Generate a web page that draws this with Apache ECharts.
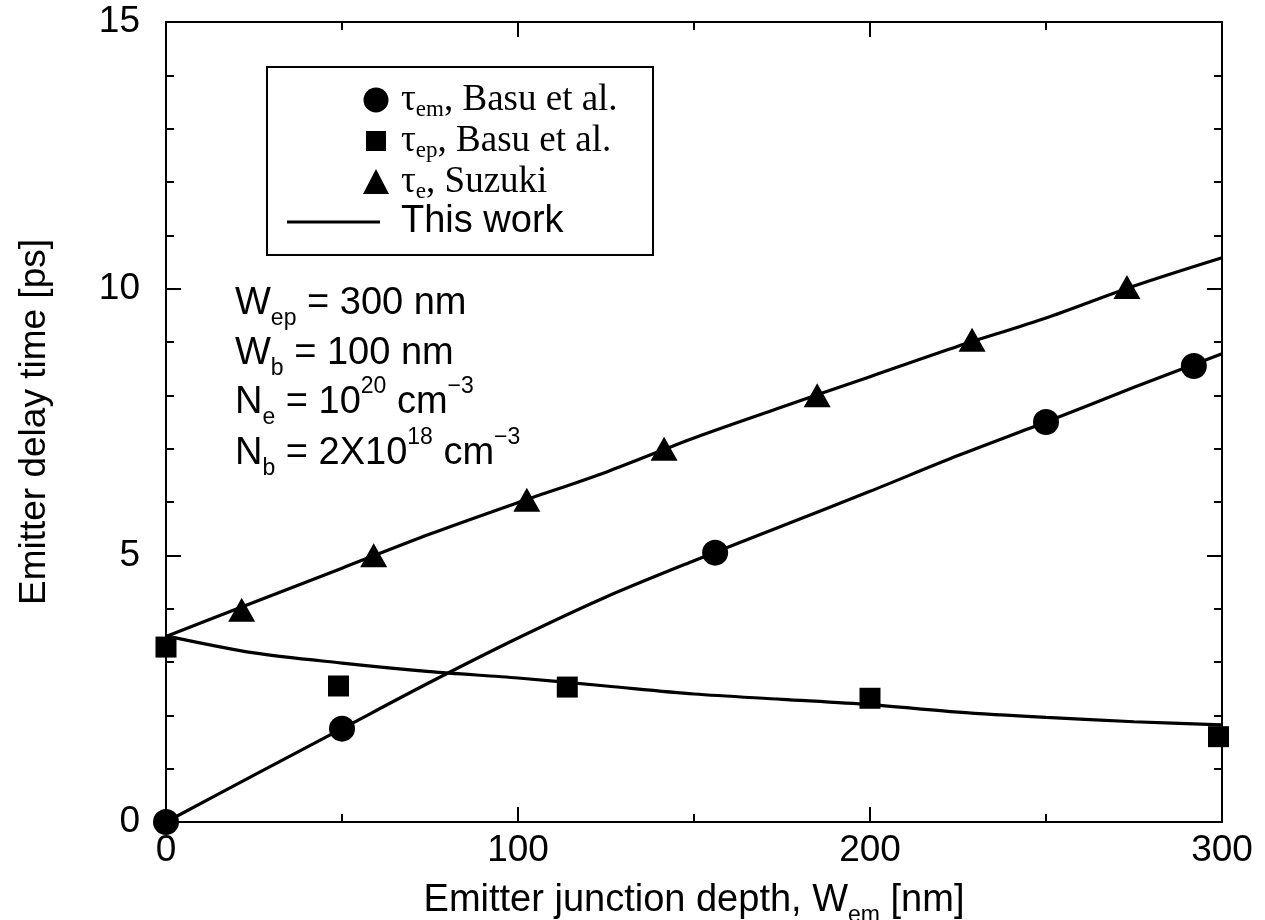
<!DOCTYPE html>
<html>
<head>
<meta charset="utf-8">
<script src="https://cdn.jsdelivr.net/npm/echarts@6/dist/echarts.min.js"></script>
<style>
  html, body { margin: 0; padding: 0; background: #fff; }
  #chart { width: 1265px; height: 920px; }
</style>
</head>
<body>
<div id="chart"></div>
<script>
// Emitter delay time vs. emitter junction depth (x in nm, y in ps)

// Measured data points
const tauEmX = [0, 50, 156, 250, 292];
const tauEmY = [0, 1.75, 5.05, 7.5, 8.55];
const tauEpX = [0, 49, 114, 200, 299];
const tauEpY = [3.28, 2.55, 2.53, 2.32, 1.6];
const tauEX = [21.5, 59, 102.5, 141.5, 185, 229, 273];
const tauEY = [3.98, 5.0, 6.04, 7.0, 8.0, 9.04, 10.03];

// Model curves ("This work")
const modelX  = [0, 25, 50, 75, 100, 125, 150, 175, 200, 225, 250, 275, 300];
const modelEm = [0, 0.88, 1.75, 2.62, 3.45, 4.22, 4.9, 5.55, 6.2, 6.87, 7.5, 8.15, 8.78];
const modelEp = [3.49, 3.17, 2.98, 2.82, 2.70, 2.55, 2.40, 2.30, 2.20, 2.06, 1.96, 1.88, 1.82];
const modelE  = [3.48, 4.12, 4.76, 5.40, 5.99, 6.56, 7.20, 7.78, 8.35, 8.92, 9.45, 10.05, 10.58];

// Axis ranges and tick steps
const xRange = [0, 300], xStep = 100, xMinorSplit = 2;
const yRange = [0, 15],  yStep = 5,   yMinorSplit = 5;

const SANS = '"Liberation Sans", Arial, Helvetica, sans-serif';
const SERIF = '"Liberation Serif", "Times New Roman", serif';

const zip = (xs, ys) => xs.map((x, i) => [x, ys[i]]);

const axisLine = { show: true, onZero: false, lineStyle: { color: '#000', width: 2 } };
const majorTick = { show: true, inside: true, length: 15, lineStyle: { color: '#000', width: 2 } };
const minorTickX = { show: true, splitNumber: xMinorSplit, length: 8, lineStyle: { color: '#000', width: 2 } };
const minorTickY = { show: true, splitNumber: yMinorSplit, length: 8, lineStyle: { color: '#000', width: 2 } };
const tickLabel = { color: '#000', fontFamily: SANS, fontSize: 37 };

// Rich text styles for sub/superscripts
const richSans = {
  n:   { fontFamily: SANS, fontSize: 38, lineHeight: 46, color: '#000' },
  sub: { fontFamily: SANS, fontSize: 23, lineHeight: 23, padding: [30, 0, 0, 0], color: '#000' },
  sup: { fontFamily: SANS, fontSize: 23, lineHeight: 23, padding: [0, 0, 32, 0], color: '#000' }
};
const richSerif = {
  t:   { fontFamily: SERIF, fontSize: 37, lineHeight: 44, color: '#000' },
  s:   { fontFamily: SERIF, fontSize: 23, lineHeight: 23, padding: [19, 0, 0, 0], color: '#000' }
};

const legendX = 267, legendY = 67, legendW = 386, legendH = 188;
const legendRows = [100, 141, 182, 222];
const iconX = 376, textX = 401;

const annoX = 235;
const annoRows = [304, 354, 403, 454];
const annoLines = [
  '{n|W}{sub|ep}{n| = 300 nm}',
  '{n|W}{sub|b}{n| = 100 nm}',
  '{n|N}{sub|e}{n| = 10}{sup|20}{n| cm}{sup|−3}',
  '{n|N}{sub|b}{n| = 2X10}{sup|18}{n| cm}{sup|−3}'
];

const chart = echarts.init(document.getElementById('chart'), null, { renderer: 'canvas' });

chart.setOption({
  backgroundColor: '#fff',
  animation: false,
  grid: { left: 166, right: 43, top: 22, bottom: 98, containLabel: false, outerBoundsMode: 'none' },
  xAxis: [
    {
      type: 'value', position: 'bottom', min: xRange[0], max: xRange[1], interval: xStep,
      axisLine, axisTick: majorTick, minorTick: minorTickX, splitLine: { show: false },
      axisLabel: Object.assign({ margin: 10 }, tickLabel),
      name: '{n|Emitter junction depth, W}{sub|em}{n| [nm]}',
      nameLocation: 'middle', nameGap: 44,
      nameTextStyle: { rich: richSans }
    },
    {
      type: 'value', position: 'top', min: xRange[0], max: xRange[1], interval: xStep,
      axisLine, axisTick: majorTick, minorTick: minorTickX, splitLine: { show: false },
      axisLabel: { show: false }
    }
  ],
  yAxis: [
    {
      type: 'value', position: 'left', min: yRange[0], max: yRange[1], interval: yStep,
      axisLine, axisTick: majorTick, minorTick: minorTickY, splitLine: { show: false },
      axisLabel: Object.assign({ margin: 26 }, tickLabel),
      name: 'Emitter delay time [ps]', nameLocation: 'middle', nameGap: 113, nameRotate: 90,
      nameTextStyle: { color: '#000', fontFamily: SANS, fontSize: 37 }
    },
    {
      type: 'value', position: 'right', min: yRange[0], max: yRange[1], interval: yStep,
      axisLine, axisTick: majorTick, minorTick: minorTickY, splitLine: { show: false },
      axisLabel: { show: false }
    }
  ],
  series: [
    {
      name: 'This work', type: 'line', data: zip(modelX, modelE), showSymbol: false, symbol: 'none',
      smooth: 0.3, lineStyle: { color: '#000', width: 3.2 }, z: 3
    },
    {
      name: 'This work', type: 'line', data: zip(modelX, modelEm), showSymbol: false, symbol: 'none',
      smooth: 0.3, lineStyle: { color: '#000', width: 3.2 }, z: 3
    },
    {
      name: 'This work', type: 'line', data: zip(modelX, modelEp), showSymbol: false, symbol: 'none',
      smooth: 0.3, lineStyle: { color: '#000', width: 3.2 }, z: 3
    },
    {
      name: 'τem, Basu et al.', type: 'scatter', data: zip(tauEmX, tauEmY), clip: false,
      symbol: 'circle', symbolSize: 26, itemStyle: { color: '#000', opacity: 1 }, z: 4
    },
    {
      name: 'τep, Basu et al.', type: 'scatter', data: zip(tauEpX, tauEpY), clip: false,
      symbol: 'rect', symbolSize: 21, itemStyle: { color: '#000', opacity: 1 }, z: 4
    },
    {
      name: 'τe, Suzuki', type: 'scatter', data: zip(tauEX, tauEY), clip: false,
      symbol: 'triangle', symbolSize: [27, 24], itemStyle: { color: '#000', opacity: 1 }, z: 4
    }
  ],
  graphic: [
    // legend box
    { type: 'rect', z: 10, shape: { x: legendX, y: legendY, width: legendW, height: legendH },
      style: { fill: '#fff', stroke: '#000', lineWidth: 2 } },
    { type: 'circle', z: 11, shape: { cx: iconX, cy: legendRows[0], r: 12.5 }, style: { fill: '#000' } },
    { type: 'rect', z: 11, shape: { x: iconX - 10, y: legendRows[1] - 10, width: 20, height: 20 }, style: { fill: '#000' } },
    { type: 'polygon', z: 11, shape: { points: [[iconX, legendRows[2] - 13], [iconX - 13, legendRows[2] + 12], [iconX + 13, legendRows[2] + 12]] },
      style: { fill: '#000' } },
    { type: 'line', z: 11, shape: { x1: 287, y1: legendRows[3], x2: 380, y2: legendRows[3] },
      style: { stroke: '#000', lineWidth: 3 } },
    { type: 'text', z: 11, x: textX, y: legendRows[0],
      style: { text: '{t|τ}{s|em}{t|, Basu et al.}', rich: richSerif, verticalAlign: 'middle', align: 'left' } },
    { type: 'text', z: 11, x: textX, y: legendRows[1],
      style: { text: '{t|τ}{s|ep}{t|, Basu et al.}', rich: richSerif, verticalAlign: 'middle', align: 'left' } },
    { type: 'text', z: 11, x: textX, y: legendRows[2],
      style: { text: '{t|τ}{s|e}{t|, Suzuki}', rich: richSerif, verticalAlign: 'middle', align: 'left' } },
    { type: 'text', z: 11, x: textX, y: legendRows[3],
      style: { text: 'This work', fill: '#000', font: '38px ' + SANS, verticalAlign: 'middle', align: 'left' } }
  ].concat(annoLines.map((txt, i) => ({
    type: 'text', z: 11, x: annoX, y: annoRows[i],
    style: { text: txt, rich: richSans, verticalAlign: 'middle', align: 'left' }
  })))
});
</script>
</body>
</html>
